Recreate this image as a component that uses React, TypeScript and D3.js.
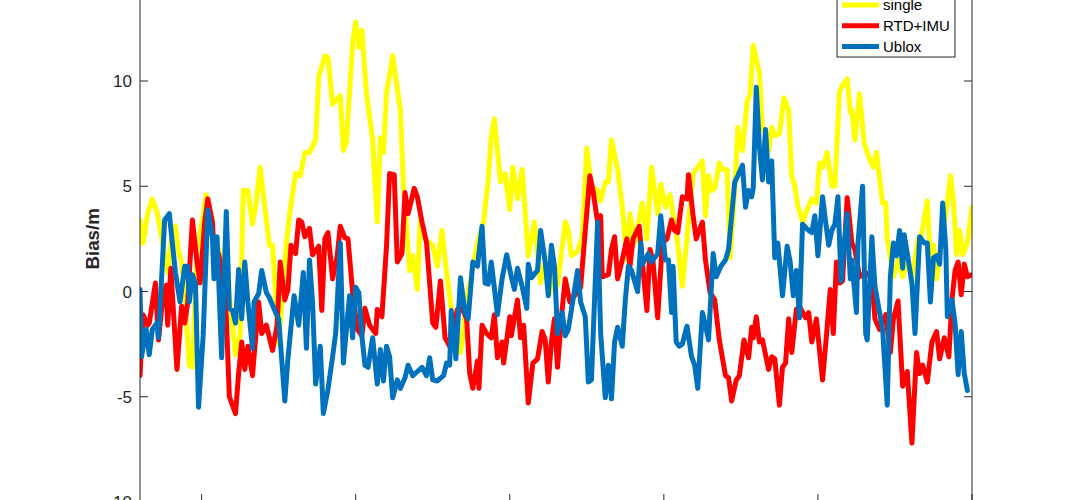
import React from 'react';
import * as d3 from 'd3';

// [time, bias] samples
const singleData: [number, number][] = [
  [60, 3.4], [62, 2.3], [65, 3.7], [68, 4.4], [71, 3.8], [74, 2.6], [78, 0.9], [81, 2.9], [83, 3.1], [85, 1.9],
  [87, 1.4], [89, 0.0], [92, -3.5], [94, -3.6], [97, 2.0], [101, 3.6], [103, 4.6], [107, 2.8], [111, 2.0], [114, 1.2],
  [118, -0.2], [122, -3.0], [125, -2.1], [127, 4.8], [130, 4.8], [133, 3.2], [135, 4.0], [138, 5.9], [141, 4.0], [144, 2.2],
  [146, 2.2], [150, -2.5], [152, -0.5], [155, 2.3], [157, 3.6], [161, 5.6], [164, 5.5], [167, 6.6], [170, 6.6], [174, 7.2],
  [176, 10.2], [180, 11.2], [182, 11.1], [185, 8.9], [190, 9.3], [192, 6.7], [194, 7.1], [198, 11.8], [200, 12.8], [202, 11.6],
  [204, 12.4], [207, 9.4], [211, 7.2], [214, 3.3], [216, 7.3], [218, 6.6], [220, 9.4], [224, 11.2], [229, 8.6], [231, 5.0],
  [235, 1.0], [237, 1.7], [240, 0.1], [242, 3.6], [245, 2.5], [250, 2.2], [253, 1.2], [256, 2.9], [259, 0.9], [262, -0.8],
  [268, -2.9], [273, 0.0], [279, 2.3], [283, 3.3], [286, 5.3], [288, 7.4], [290, 8.2], [294, 5.2], [297, 5.6], [300, 3.9],
  [302, 5.9], [305, 4.4], [308, 5.8], [312, 1.7], [316, 3.3], [320, 0.4], [323, 1.4], [326, -0.1], [328, 1.0], [331, 0.3],
  [336, 3.3], [338, 2.9], [340, 1.7], [344, 1.9], [347, 2.6], [350, 6.8], [353, 5.0], [357, 4.8], [359, 4.3], [362, 5.2],
  [364, 5.2], [366, 7.2], [370, 5.8], [373, 4.0], [376, 1.5], [378, 3.7], [381, 2.3], [386, 4.2], [389, 2.5], [392, 5.9],
  [396, 3.7], [398, 5.1], [401, 4.0], [404, 4.6], [406, 3.6], [409, 2.3], [412, 0.25], [416, 3.3], [419, 5.6], [422, 5.9],
  [425, 6.2], [427, 3.6], [429, 5.5], [431, 4.8], [433, 4.9], [436, 6.1], [438, 5.8], [441, 5.8], [443, 1.6], [446, 4.8],
  [448, 7.8], [451, 6.7], [454, 9.0], [456, 9.4], [458, 11.7], [462, 10.4], [464, 7.7], [466, 7.5], [468, 6.7], [470, 7.8],
  [472, 7.4], [475, 7.5], [478, 9.2], [481, 8.6], [483, 5.5], [485, 5.0], [487, 4.05], [490, 3.3], [493, 3.9], [496, 4.4],
  [499, 4.2], [501, 6.1], [503, 5.9], [506, 6.6], [509, 5.0], [511, 5.0], [514, 9.5], [516, 9.8], [519, 10.1], [521, 8.5],
  [522, 8.6], [524, 7.2], [527, 9.4], [530, 7.05], [534, 6.2], [536, 5.9], [538, 6.6], [542, 4.2], [544, 4.2], [545, 2.5],
  [549, 0.7], [552, 1.5], [555, 0.7], [558, 1.4], [561, 0.7], [565, 2.5], [567, 2.6], [571, 4.3], [573, 1.5], [575, 2.2],
  [577, 0.6], [579, 1.7], [584, 4.2], [586, 5.5], [588, 4.2], [590, 1.75], [592, 2.9], [594, 1.75], [597, 2.3], [600, 4.0]
];

const rtdData: [number, number][] = [
  [60, -4.0], [62, -1.1], [65, -1.6], [66, -1.5], [70, 0.4], [72, -2.3], [74, -0.85], [77, 0.3], [78, -1.6], [80, 1.1],
  [81, -0.1], [84, -3.7], [87, -0.7], [89, -1.5], [91, -0.5], [94, 3.4], [97, 1.4], [99, 0.4], [102, 3.3], [104, 4.4],
  [107, 3.3], [109, 0.7], [111, 1.8], [114, 0.6], [116, -1.2], [118, -5.0], [122, -5.8], [124, -3.9], [126, -2.4], [128, -3.7],
  [130, -2.6], [133, -4.0], [137, -0.5], [139, -2.0], [142, -1.6], [146, -2.8], [149, -1.6], [151, 1.4], [154, -0.4], [156, 0.1],
  [158, 2.2], [161, 1.8], [163, 3.4], [165, 3.3], [167, 2.6], [170, 3.0], [172, 1.75], [176, 2.15], [178, -0.9], [180, 2.5],
  [182, 2.8], [185, 0.6], [188, 1.7], [190, 3.1], [193, 2.55], [195, 2.5], [198, -0.05], [201, -1.8], [204, -2.1], [206, -0.8],
  [209, -1.6], [213, -2.0], [214, -0.85], [217, -1.2], [220, 2.15], [222, 5.6], [225, 5.55], [227, 1.4], [230, 1.8], [232, 4.7],
  [234, 3.7], [238, 4.9], [240, 4.5], [243, 3.3], [246, 2.3], [250, -1.5], [252, -1.7], [255, 0.5], [258, -2.2], [261, -2.6],
  [266, -0.85], [269, -0.8], [272, -1.3], [274, -3.9], [276, -4.6], [279, -3.3], [280, -4.6], [282, -1.6], [285, -2.0], [288, -2.2],
  [290, -1.1], [292, -3.15], [295, -2.4], [296, -3.4], [300, -1.2], [301, -2.1], [305, -0.4], [307, -2.2], [309, -1.6], [312, -5.3],
  [315, -3.4], [318, -3.2], [321, -1.9], [323, -2.3], [325, -4.3], [327, -2.4], [329, -1.3], [331, -3.6], [334, -0.85], [336, 0.6],
  [339, -0.5], [342, -0.2], [346, 0.2], [349, 2.9], [352, 5.5], [354, 4.8], [357, 3.3], [359, 3.6], [360, 0.7], [364, 0.8],
  [366, 2.0], [368, 2.6], [370, 0.6], [373, 1.5], [376, 2.5], [378, 1.2], [380, 2.5], [384, 3.1], [386, 1.4], [389, -0.9],
  [391, 2.0], [393, 1.4], [396, -1.25], [399, 2.3], [402, 2.5], [405, 3.4], [407, 2.9], [409, 2.8], [412, 4.5], [415, 4.4],
  [416, 5.55], [419, 3.6], [421, 2.5], [425, 3.3], [427, 1.5], [430, -0.05], [433, -0.4], [436, -2.3], [440, -4.0], [442, -4.1],
  [444, -5.2], [447, -4.2], [449, -4.0], [452, -2.3], [455, -3.15], [457, -1.7], [458, -2.2], [460, -1.2], [462, -2.4], [464, -2.3],
  [468, -3.7], [470, -3.1], [472, -3.2], [475, -5.4], [477, -3.6], [479, -3.4], [481, -1.3], [483, -2.9], [486, -0.85], [488, -0.7],
  [492, -1.25], [494, -1.0], [496, -2.4], [499, -1.3], [503, -4.2], [506, -1.7], [508, 0.1], [510, -2.0], [512, 1.4], [514, 0.4],
  [516, 0.5], [519, 4.45], [522, 2.3], [524, 2.0], [527, 0.7], [531, 0.9], [535, 0.65], [537, -1.3], [540, -1.8], [544, -1.1],
  [547, -2.9], [549, -1.3], [552, -0.45], [555, -4.5], [558, -3.8], [561, -7.2], [564, -2.9], [566, -3.9], [568, -3.5], [571, -4.3],
  [574, -2.4], [577, -1.9], [579, -3.2], [582, -2.2], [585, -3.1], [587, -0.4], [589, 1.0], [591, 1.4], [593, -0.15], [595, 1.3],
  [597, 0.7], [600, 0.8]
];

const ubloxData: [number, number][] = [
  [60, 0.1], [61, -3.1], [64, -1.8], [66, -3.0], [68, -1.8], [71, -1.5], [72, -2.2], [76, 3.4], [79, 3.7], [83, 0.9],
  [86, -0.5], [89, 1.2], [91, 1.2], [92, -0.5], [94, 0.8], [96, 0.4], [98, -5.5], [101, -2.1], [104, 3.9], [107, 2.6],
  [108, 0.6], [110, 2.6], [113, -3.15], [116, 3.8], [118, -0.8], [120, -0.9], [122, -1.5], [124, 1.05], [126, -1.3], [128, 1.4],
  [130, -0.5], [133, -2.7], [134, -0.5], [137, -0.1], [139, 1.0], [142, -0.05], [144, -0.3], [148, -1.0], [150, -1.3], [154, -5.2],
  [156, -3.2], [160, -0.2], [163, -1.6], [166, 0.9], [168, -2.7], [170, 1.5], [172, -0.5], [174, -4.4], [177, -2.6], [179, -5.8],
  [182, -4.65], [185, -3.1], [187, -2.0], [190, 2.3], [192, -3.4], [196, -0.2], [198, -2.2], [200, 0.2], [202, -0.05], [204, -2.1],
  [206, -3.5], [208, -3.6], [211, -2.2], [214, -4.4], [216, -2.75], [218, -4.25], [220, -2.6], [222, -3.1], [224, -5.05], [227, -4.2],
  [229, -4.6], [232, -4.1], [234, -3.5], [237, -4.0], [240, -3.8], [243, -3.6], [246, -4.0], [248, -3.15], [250, -4.2], [253, -4.25],
  [257, -4.0], [259, -3.4], [261, -3.5], [262, -0.9], [265, -3.2], [268, 0.65], [271, -1.0], [273, -1.3], [276, 1.4], [279, 1.2],
  [282, 3.1], [284, 0.4], [286, 0.35], [288, 1.4], [292, -1.1], [295, 0.6], [298, 1.75], [301, 0.7], [303, 0.1], [305, 1.1],
  [308, 0.25], [311, -0.8], [312, 1.3], [314, 0.65], [318, 1.0], [320, 2.9], [323, 1.4], [325, -0.2], [327, 2.2], [329, 1.2],
  [331, -2.0], [334, -1.0], [336, -2.1], [338, -1.8], [341, -0.4], [344, 1.0], [346, -0.5], [349, -1.2], [351, -4.3], [353, -4.2],
  [357, 3.3], [359, -2.0], [362, -5.05], [364, -3.5], [366, -5.1], [368, -2.4], [370, -1.7], [373, -2.6], [375, -0.4], [377, 1.2],
  [379, 1.0], [383, 0.0], [385, 2.3], [386, 1.3], [390, 1.8], [392, 1.4], [396, 1.8], [398, 3.6], [401, 1.5], [403, 1.5],
  [405, -1.0], [406, 1.2], [408, -2.4], [410, -2.6], [412, -2.5], [415, -1.65], [418, -3.1], [420, -3.5], [422, -4.6], [425, -1.0],
  [427, -1.6], [429, -2.3], [432, 1.8], [434, 0.7], [437, 1.2], [440, 1.5], [442, 2.0], [444, 3.6], [446, 5.2], [448, 5.5],
  [451, 6.0], [453, 4.0], [455, 4.8], [457, 4.5], [458, 4.9], [460, 9.7], [462, 6.9], [464, 5.3], [466, 7.7], [468, 5.2],
  [470, 6.2], [472, 1.6], [474, 2.3], [477, -0.2], [480, 2.15], [482, 1.4], [484, -0.2], [486, 1.0], [488, -1.25], [490, 3.2],
  [494, 2.9], [496, 2.8], [498, 3.6], [500, 1.7], [503, 4.5], [505, 3.3], [507, 2.2], [509, 2.9], [511, 3.2], [513, 4.5],
  [515, 0.5], [517, 2.15], [519, 3.7], [521, 0.6], [522, 1.5], [525, -1.0], [526, 2.3], [529, 5.0], [531, -2.0], [532, -2.3],
  [535, 2.6], [537, 0.25], [540, -1.0], [542, -1.8], [545, -5.4], [547, 0.7], [549, 2.3], [551, 1.7], [553, 2.9], [555, 1.1],
  [556, 2.7], [558, 1.8], [561, 0.4], [563, -2.0], [566, 2.6], [569, 2.3], [571, 2.3], [573, -0.5], [575, 1.6], [577, 1.7],
  [579, 1.3], [581, 4.2], [583, 2.0], [584, -1.2], [587, -0.4], [589, -1.5], [591, -3.95], [593, -1.9], [595, -3.9], [597, -4.7]
];

const seriesNames = ['single', 'RTD+IMU', 'Ublox'];
const seriesColors = ['#FFFF00', '#FF0000', '#0072BD'];
const yTicks = [-10, -5, 0, 5, 10, 15];
const yTickLabels = ['-10', '-5', '0', '5', '10'];
const xTicks = [100, 200, 300, 400, 500, 600];

const App: React.FC = () => {
  const width = 1075;
  const height = 500;
  // axes box (top edge sits above the cropped picture)
  const left = 140;
  const right = 972;
  const top = -24.25;
  const bottom = 502;
  const axisColor = '#262626';
  const font = '"Liberation Sans", Arial, Helvetica, sans-serif';

  const x = d3.scaleLinear().domain([60, 600]).range([left, right]);
  const y = d3.scaleLinear().domain([-10, 15]).range([bottom, top]);

  const line = d3.line<[number, number]>().x(d => x(d[0])).y(d => y(d[1]));
  const allSeries = [singleData, rtdData, ubloxData];

  // legend
  const legX = 837;
  const legW = 118;
  const legTop = -6;
  const legBottom = 57;
  const legRow = 20.7;
  const legFirst = 5;

  return (
    <svg width={width} height={height} style={{ position: 'absolute', left: 0, top: 0, background: '#fff' }}>
      <defs>
        <clipPath id="plotArea">
          <rect x={left} y={top} width={right - left} height={bottom - top} />
        </clipPath>
      </defs>
      <rect x={0} y={0} width={width} height={height} fill="#fff" />

      <g clipPath="url(#plotArea)">
        {allSeries.map((s, i) => (
          <path key={seriesNames[i]} d={line(s) || ''} fill="none" stroke={seriesColors[i]}
            strokeWidth={5} strokeLinejoin="round" strokeLinecap="round" />
        ))}
      </g>

      {/* box */}
      <rect x={left} y={top} width={right - left} height={bottom - top} fill="none" stroke={axisColor} strokeWidth={1} />

      {/* y ticks, both sides inward */}
      {yTicks.map(t => (
        <g key={'y' + t}>
          <line x1={left} x2={left + 8} y1={y(t)} y2={y(t)} stroke={axisColor} />
          <line x1={right - 8} x2={right} y1={y(t)} y2={y(t)} stroke={axisColor} />
        </g>
      ))}
      {yTickLabels.map(lbl => (
        <text key={'yl' + lbl} x={left - 8} y={y(+lbl)} dy="0.36em" textAnchor="end"
          fontFamily={font} fontSize={17} fill={axisColor}>
          {lbl}
        </text>
      ))}

      {/* x ticks */}
      {xTicks.map(t => (
        <line key={'x' + t} x1={x(t)} x2={x(t)} y1={bottom} y2={bottom - 8} stroke={axisColor} />
      ))}

      <text transform={`translate(99,${(top + bottom) / 2}) rotate(-90)`} textAnchor="middle"
        fontFamily={font} fontSize={18.7} fontWeight="bold" fill={axisColor}>
        Bias/m
      </text>

      {/* legend */}
      <rect x={legX} y={legTop} width={legW} height={legBottom - legTop} fill="#fff" stroke={axisColor} strokeWidth={1} />
      {seriesNames.map((name, i) => {
        const cy = legFirst + i * legRow;
        return (
          <g key={'leg' + name}>
            <line x1={legX + 5} x2={legX + 42} y1={cy} y2={cy} stroke={seriesColors[i]} strokeWidth={5} />
            <text x={legX + 46} y={cy} dy="0.36em" fontFamily={font} fontSize={15} fill="#000">{name}</text>
          </g>
        );
      })}
    </svg>
  );
};

export default App;
